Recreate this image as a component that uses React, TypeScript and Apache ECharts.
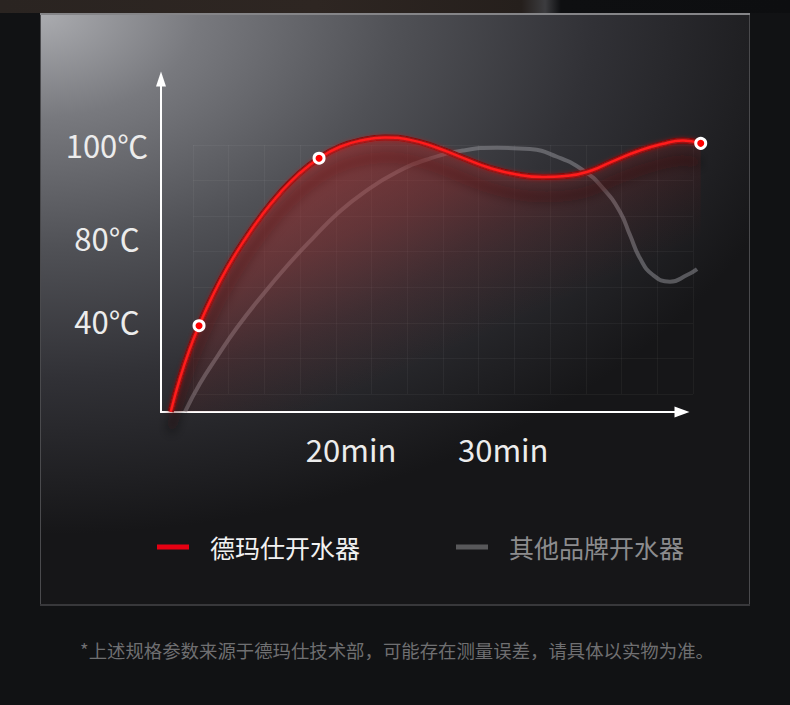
import React, { useEffect, useRef } from "react";
import * as echarts from "echarts";

// ---- data ----
const seriesNames = ["德玛仕开水器", "其他品牌开水器"];

// time (min) / level for the Demax curve
const demaxX = [8.14, 8.75, 9.41, 10.0, 10.85, 11.9, 13.02, 14.14, 15.32, 16.51, 17.89, 19.27, 20.71, 22.23, 23.87, 25.64, 27.35, 29.13, 30.9, 32.61, 34.26, 35.7, 37.15, 38.79, 40.43, 41.81, 42.98];
const demaxY = [0.11, 12.73, 24.02, 32.49, 43.26, 54.71, 65.06, 74.17, 82.45, 89.38, 95.56, 99.89, 102.33, 103.35, 102.48, 99.51, 95.71, 91.87, 89.42, 88.48, 88.93, 90.74, 94.31, 98.08, 100.9, 102.22, 101.17];
const demaxMarked = [3, 10, 26];

// other brand curve
const otherX = [9.08, 10.06, 11.18, 12.5, 14.01, 15.78, 17.49, 19.14, 20.78, 23.01, 25.18, 27.35, 29.59, 31.76, 33.53, 35.24, 36.56, 37.67, 38.33, 38.99, 39.84, 40.96, 42.08, 42.74];
const otherY = [0.11, 10.73, 20.71, 31.81, 42.92, 54.97, 65.51, 74.92, 82.45, 90.36, 95.44, 98.46, 99.51, 99.02, 96.12, 91.11, 84.22, 75.41, 66.64, 57.87, 51.58, 49.06, 51.58, 53.84];

const xTickValues = [20, 30];
const xTickLabels = ["20min", "30min"];
const yTickValues = [34.6, 65.7, 100.7];
const yTickLabels = ["40℃", "80℃", "100℃"];

const footnote = "*上述规格参数来源于德玛仕技术部，可能存在测量误差，请具体以实物为准。";

const FONT = "'Noto Sans CJK SC', 'Noto Sans', sans-serif";

function pickLabel(values: number[], labels: string[]) {
  return (v: number) => {
    const i = values.findIndex((t) => Math.abs(t - v) < 1e-6);
    return i >= 0 ? labels[i] : "";
  };
}

const hiddenAxis = {
  axisLine: { show: false },
  axisTick: { show: false },
  axisLabel: { show: false },
  splitLine: { show: false },
};

export default function App() {
  const ref = useRef<HTMLDivElement>(null);

  useEffect(() => {
    if (!ref.current) return;
    const chart = echarts.init(ref.current, undefined, { renderer: "svg" });

    const demaxPairs = demaxX.map((x, i) => [x, demaxY[i]]);
    const demaxData = demaxX.map((x, i) =>
      demaxMarked.includes(i)
        ? { value: [x, demaxY[i]] }
        : { value: [x, demaxY[i]], symbol: "none" }
    );
    const otherData = otherX.map((x, i) => [x, otherY[i]]);

    const gridLine = { show: true, lineStyle: { color: "rgba(255,255,255,0.045)", width: 1 } };

    const option: any = {
      animation: false,
      backgroundColor: "#111214",
      graphic: [
        {
          type: "rect",
          z: -100,
          silent: true,
          shape: { x: 0, y: 0, width: 790, height: 13 },
          style: {
            fill: {
              type: "linear",
              x: 0,
              y: 0,
              x2: 1,
              y2: 0,
              colorStops: [
                { offset: 0, color: "#2a2421" },
                { offset: 0.4, color: "#2e2622" },
                { offset: 0.66, color: "#251f1c" },
                { offset: 0.69, color: "#3c3c3f" },
                { offset: 0.71, color: "#0e0f11" },
                { offset: 1, color: "#0d0e10" },
              ],
            },
          },
        },
        {
          type: "rect",
          z: -99,
          silent: true,
          x: 40,
          y: 13,
          scaleY: 0.66,
          shape: { x: 0, y: 0, width: 710, height: 897 },
          style: {
            fill: {
              type: "radial",
              x: 0,
              y: 0,
              r: 790,
              global: true,
              colorStops: [
                { offset: 0, color: "#abacb0" },
                { offset: 0.2, color: "#78797e" },
                { offset: 0.45, color: "#505156" },
                { offset: 0.7, color: "#313136" },
                { offset: 0.9, color: "#1f1f22" },
                { offset: 1, color: "#161618" },
              ],
            },
          },
        },
        {
          type: "rect",
          z: -98,
          silent: true,
          shape: { x: 40.5, y: 13.5, width: 709, height: 591 },
          style: { fill: "none", stroke: "#4a4a4d", lineWidth: 1 },
        },
        {
          type: "line",
          z: -97,
          silent: true,
          shape: { x1: 40, y1: 14, x2: 750, y2: 14 },
          style: { stroke: "#858588", lineWidth: 2 },
        },
        {
          type: "line",
          z: -97,
          silent: true,
          shape: { x1: 40, y1: 605, x2: 750, y2: 605 },
          style: { stroke: "#38383b", lineWidth: 2 },
        },
        {
          type: "text",
          x: 397,
          y: 650,
          silent: true,
          style: {
            text: footnote,
            fill: "#6f6f71",
            fontSize: 18.4,
            fontFamily: FONT,
            align: "center",
            verticalAlign: "middle",
          },
        },
      ],
      grid: [
        // data grid (extends a little past the arrow so the curves' ends are not clipped)
        { left: 161, top: 79, width: 543.07, height: 333, containLabel: false, outerBoundsMode: "none" },
        // faint background pattern
        { left: 193, top: 145, width: 500, height: 249, containLabel: false, outerBoundsMode: "none" },
        // visible axes with arrows
        { left: 161, top: 79, width: 521, height: 333, containLabel: false, outerBoundsMode: "none" },
      ],
      xAxis: [
        { gridIndex: 0, type: "value", min: 7.5, max: 43.2, ...hiddenAxis },
        { gridIndex: 1, type: "value", min: 0, max: 14, interval: 1, ...hiddenAxis, splitLine: gridLine },
        {
          gridIndex: 2,
          type: "value",
          min: 7.5,
          max: 41.75,
          axisLine: {
            show: true,
            onZero: false,
            symbol: ["none", "triangle"],
            symbolSize: [11, 15],
            lineStyle: { color: "#ffffff", width: 2 },
          },
          axisTick: { show: false },
          splitLine: { show: false },
          axisLabel: {
            customValues: xTickValues,
            formatter: pickLabel(xTickValues, xTickLabels),
            color: "#ececec",
            fontSize: 31,
            fontFamily: FONT,
            margin: 21,
          },
        },
      ],
      yAxis: [
        { gridIndex: 0, type: "value", min: 0, max: 125.4, ...hiddenAxis },
        { gridIndex: 1, type: "value", min: 0, max: 7, interval: 1, ...hiddenAxis, splitLine: gridLine },
        {
          gridIndex: 2,
          type: "value",
          min: 0,
          max: 125.4,
          axisLine: {
            show: true,
            onZero: false,
            symbol: ["none", "triangle"],
            symbolSize: [10, 15],
            lineStyle: { color: "#ffffff", width: 2 },
          },
          axisTick: { show: false },
          splitLine: { show: false },
          axisLabel: {
            customValues: yTickValues,
            formatter: pickLabel(yTickValues, yTickLabels),
            color: "#ececec",
            fontSize: 31,
            fontFamily: FONT,
            align: "center",
            margin: 54,
          },
        },
      ],
      legend: {
        left: 157,
        top: 532,
        padding: 0,
        icon: "rect",
        itemWidth: 32,
        itemHeight: 5,
        itemGap: 96,
        selectedMode: false,
        textStyle: { fontSize: 25, lineHeight: 30, fontFamily: FONT, padding: [0, 0, 0, 16] },
        data: [
          { name: seriesNames[0], itemStyle: { color: "#e60012", borderWidth: 0 }, textStyle: { color: "#f2f2f2" } },
          { name: seriesNames[1], itemStyle: { color: "#58585a", borderWidth: 0 }, textStyle: { color: "#8c8c8e" } },
        ],
      },
      series: [
        {
          type: "line",
          name: seriesNames[1],
          xAxisIndex: 0,
          yAxisIndex: 0,
          data: otherData,
          smooth: 0.5,
          symbol: "none",
          clip: false,
          z: 2,
          silent: true,
          itemStyle: { color: "#58585a" },
          lineStyle: { color: "rgba(150,150,155,0.5)", width: 4 },
        },
        {
          type: "line",
          name: "glow",
          xAxisIndex: 0,
          yAxisIndex: 0,
          data: demaxPairs,
          smooth: 0.5,
          symbol: "none",
          clip: false,
          z: 3,
          silent: true,
          lineStyle: {
            color: "rgba(110,8,8,0.9)",
            width: 6,
            shadowColor: "rgba(30,0,0,0.8)",
            shadowBlur: 12,
            shadowOffsetY: 20,
          },
        },
        {
          type: "line",
          name: seriesNames[0],
          xAxisIndex: 0,
          yAxisIndex: 0,
          data: demaxData,
          smooth: 0.5,
          symbol: "circle",
          symbolSize: 10,
          showAllSymbol: true,
          clip: false,
          z: 4,
          silent: true,
          itemStyle: { color: "#ff0000", borderColor: "#ffffff", borderWidth: 3 },
          lineStyle: {
            color: "#ff1a1a",
            width: 2.5,
            shadowColor: "rgba(255,20,20,0.9)",
            shadowBlur: 5,
          },
          areaStyle: {
            origin: "start",
            color: {
              type: "linear",
              x: 330,
              y: 130,
              x2: 450,
              y2: 400,
              global: true,
              colorStops: [
                { offset: 0, color: "rgba(175,35,35,0.75)" },
                { offset: 0.35, color: "rgba(160,30,30,0.5)" },
                { offset: 0.6, color: "rgba(140,25,25,0.22)" },
                { offset: 0.85, color: "rgba(120,20,20,0)" },
                { offset: 1, color: "rgba(120,20,20,0)" },
              ],
            },
          },
        },
      ],
    };

    chart.setOption(option);
    return () => chart.dispose();
  }, []);

  return (
    <div
      ref={ref}
      style={{ position: "fixed", left: 0, top: 0, width: 790, height: 705 }}
    />
  );
}
